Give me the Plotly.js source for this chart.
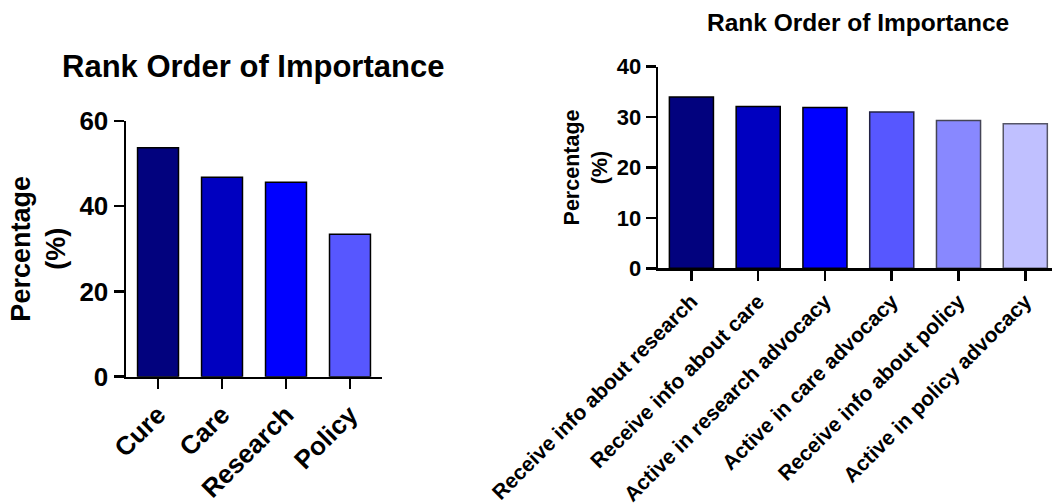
<!DOCTYPE html>
<html>
<head>
<meta charset="utf-8">
<script src="https://cdn.plot.ly/plotly-3.0.1.min.js"></script>
<style>html,body{margin:0;padding:0;background:#fff}#chart{width:1052px;height:504px}</style>
</head>
<body>
<div id="chart"></div>
<script>
// Left chart data
const leftCategories = ["Cure", "Care", "Research", "Policy"];
const leftValues = [53.7, 46.8, 45.6, 33.4];
const leftColors = ["#02027E", "#0000C0", "#0000FF", "#5757FF"];
const leftTicks = [0, 20, 40, 60];

// Right chart data
const rightCategories = ["Receive info about research", "Receive info about care", "Active in research advocacy",
  "Active in care advocacy", "Receive info about policy", "Active in policy advocacy"];
const rightValues = [34.0, 32.1, 31.9, 31.0, 29.3, 28.7];
const rightColors = ["#02027E", "#0000C0", "#0000FF", "#5757FF", "#8888FF", "#C0C0FF"];
const rightLineColors = ["#000000", "#000000", "#000000", "#222244", "#444455", "#555566"];
const rightTicks = [0, 10, 20, 30, 40];

const chartTitle = "Rank Order of Importance";
const yTitle = "Percentage<br>(%)";
const FONT = "Arial, 'Liberation Sans', sans-serif";

const traces = [
  {type: "bar", x: leftCategories, y: leftValues, xaxis: "x", yaxis: "y", width: 0.64,
   marker: {color: leftColors, line: {color: "#000", width: 1.5}}, hoverinfo: "x+y"},
  {type: "bar", x: rightCategories, y: rightValues, xaxis: "x2", yaxis: "y2", width: 0.66,
   marker: {color: rightColors, line: {color: rightLineColors, width: 1.5}}, hoverinfo: "x+y"}
];

const axisCommon = {showgrid: false, zeroline: false, showline: true, linecolor: "#000", linewidth: 2.5,
  ticks: "outside", ticklen: 10, tickwidth: 2.5, tickcolor: "#000", fixedrange: true};

const layout = {
  width: 1052, height: 504, showlegend: false,
  paper_bgcolor: "#fff", plot_bgcolor: "#fff",
  margin: {l: 0, r: 0, t: 0, b: 0},
  font: {family: FONT, color: "#000"},
  bargap: 0.3,
  xaxis: Object.assign({}, axisCommon, {domain: [0.1198, 0.3631], range: [-0.5, 3.5], type: "category",
    tickangle: -45, tickfont: {size: 26, weight: "bold", family: FONT}, anchor: "y"}),
  yaxis: Object.assign({}, axisCommon, {domain: [0.2526, 0.7599], range: [0, 60], tickvals: leftTicks,
    tickfont: {size: 26, weight: "bold", family: FONT}, anchor: "x",
    title: {text: yTitle, font: {size: 27, weight: "bold", family: FONT}, standoff: 6}}),
  xaxis2: Object.assign({}, axisCommon, {domain: [0.6255, 1.0], range: [-0.5, 5.4], type: "category",
    tickangle: -45, tickfont: {size: 21, weight: "bold", family: FONT}, anchor: "y2"}),
  yaxis2: Object.assign({}, axisCommon, {domain: [0.4677, 0.8677], range: [0, 40], tickvals: rightTicks,
    tickfont: {size: 22, weight: "bold", family: FONT}, anchor: "x2",
    title: {text: yTitle, font: {size: 21.5, weight: "bold", family: FONT}, standoff: 3}}),
  annotations: [
    {text: chartTitle, xref: "paper", yref: "paper", x: 253 / 1052, y: 1 - 67 / 504, xanchor: "center", yanchor: "middle",
     showarrow: false, font: {size: 31, weight: "bold", family: FONT}},
    {text: chartTitle, xref: "paper", yref: "paper", x: 858 / 1052, y: 1 - 23 / 504, xanchor: "center", yanchor: "middle",
     showarrow: false, font: {size: 24.5, weight: "bold", family: FONT}}
  ]
};

Plotly.newPlot("chart", traces, layout, {displayModeBar: false, staticPlot: true});
</script>
</body>
</html>
